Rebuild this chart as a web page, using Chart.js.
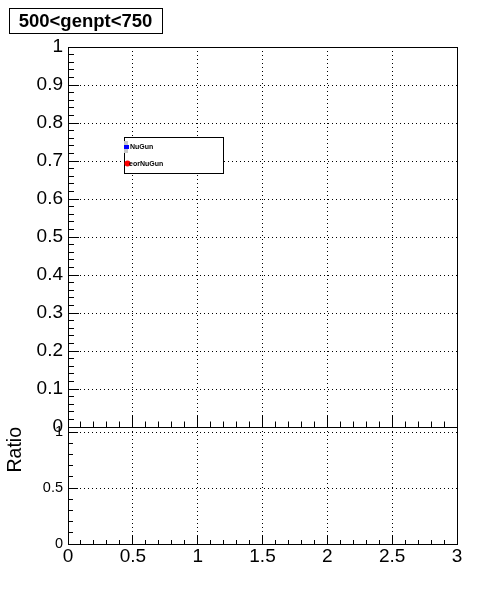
<!DOCTYPE html>
<html>
<head>
<meta charset="utf-8">
<script src="https://cdn.jsdelivr.net/npm/chart.js@4/dist/chart.umd.min.js"></script>
<style>
  html, body { margin: 0; padding: 0; background: #ffffff; }
  body { width: 496px; height: 597px; position: relative; overflow: hidden; }
  canvas { position: absolute; left: 0; }
  #top { top: 0; }
  #bottom { top: 410px; }
</style>
</head>
<body>
<canvas id="top" width="496" height="457"></canvas>
<canvas id="bottom" width="496" height="187"></canvas>
<script>
// ---- data (the histograms are empty) ----
const panelTitle = '500<genpt<750';
const seriesLabels = ['NuGun', 'eorNuGun'];
const nuGunValues = [];      // no points drawn in the reference
const eorNuGunValues = [];   // no points drawn in the reference
const ratioValues = [];      // no points drawn in the reference
const xTickValues = [0, 0.5, 1, 1.5, 2, 2.5, 3];
const topYTickValues = [0, 0.1, 0.2, 0.3, 0.4, 0.5, 0.6, 0.7, 0.8, 0.9, 1];
const ratioYTickValues = [0, 0.5, 1];
const ratioAxisTitle = 'Ratio';

const FONT = '"Liberation Sans", Arial, Helvetica, sans-serif';
const seriesColors = ['#0000ff', '#ff0000'];

function px(v) { return Math.floor(v + 0.001) + 0.5; }

// ROOT-like frame, dotted grid and inward ticks, placed through the chart scales
const rootFrame = {
  id: 'rootFrame',
  afterDraw(chart, args, o) {
    const { ctx, chartArea: a, scales } = chart;
    const x = scales.x, y = scales.y;
    ctx.save();
    ctx.strokeStyle = '#000';
    ctx.lineWidth = 1;
    // dotted grid
    ctx.setLineDash([1, 3]);
    ctx.beginPath();
    o.xGrid.forEach(v => {
      const p = px(x.getPixelForValue(v));
      ctx.moveTo(p, a.top); ctx.lineTo(p, a.bottom);
    });
    o.yGrid.forEach(v => {
      const p = px(y.getPixelForValue(v));
      ctx.moveTo(a.left, p); ctx.lineTo(a.right, p);
    });
    ctx.stroke();
    ctx.setLineDash([]);
    // frame
    ctx.strokeRect(a.left + 0.5, a.top + 0.5, a.right - a.left, a.bottom - a.top);
    // x ticks (bottom edge, pointing up)
    ctx.beginPath();
    const nx = Math.round((x.max - x.min) / o.xMinor);
    for (let i = 0; i <= nx; i++) {
      const v = x.min + i * o.xMinor;
      const p = px(x.getPixelForValue(v));
      const len = (i % o.xPer === 0) ? o.xMajorLen : o.xMinorLen;
      ctx.moveTo(p, a.bottom); ctx.lineTo(p, a.bottom - len);
    }
    // y ticks (left edge, pointing right)
    const ny = Math.floor((o.yTop - y.min) / o.yMinor + 1e-6);
    for (let i = 0; i <= ny; i++) {
      const v = y.min + i * o.yMinor;
      const p = px(y.getPixelForValue(v));
      const len = (i % o.yPer === 0) ? o.yMajorLen : o.yMinorLen;
      ctx.moveTo(a.left, p); ctx.lineTo(a.left + len, p);
    }
    ctx.stroke();
    ctx.restore();
  }
};

// title box + legend box drawn on the upper pad
const rootDecor = {
  id: 'rootDecor',
  afterDraw(chart, args, o) {
    if (!o.enabled) return;
    const { ctx, chartArea: a } = chart;
    ctx.save();
    // title box
    ctx.fillStyle = '#fff';
    ctx.fillRect(9.5, 8.5, 153, 25);
    ctx.strokeStyle = '#000';
    ctx.lineWidth = 1;
    ctx.strokeRect(9.5, 8.5, 153, 25);
    ctx.fillStyle = '#000';
    ctx.font = 'bold 18.5px ' + FONT;
    ctx.textAlign = 'center';
    ctx.textBaseline = 'alphabetic';
    ctx.fillText(panelTitle, 85.5, 27);
    // legend box (relative to the plot area)
    const w = a.right - a.left, h = a.bottom - a.top;
    const lx0 = Math.round(a.left + o.legend.x0 * w), lx1 = Math.round(a.left + o.legend.x1 * w);
    const ly0 = Math.round(a.top + o.legend.y0 * h), ly1 = Math.round(a.top + o.legend.y1 * h);
    ctx.fillStyle = '#fff';
    ctx.fillRect(lx0, ly0, lx1 - lx0, ly1 - ly0);
    ctx.strokeRect(lx0 + 0.5, ly0 + 0.5, lx1 - lx0, ly1 - ly0);
    const ds = chart.data.datasets;
    const rowH = (ly1 - ly0) / ds.length;
    ds.forEach((d, i) => {
      const cy = ly0 + rowH * (i + 0.5) + (i === 0 ? 1 : -0.5);
      const mx = lx0 + 3.5;
      if (d.pointStyle === 'rect') {
        ctx.fillStyle = '#c8c8c8';
        ctx.fillRect(lx0, cy - 6, 4, 12);
        ctx.fillStyle = d.backgroundColor;
        ctx.fillRect(lx0, cy - 2, 5, 4);
      } else {
        ctx.fillStyle = d.backgroundColor;
        ctx.beginPath();
        ctx.arc(mx, cy, 3, 0, Math.PI * 2);
        ctx.fill();
      }
      ctx.fillStyle = '#000';
      ctx.font = 'bold 7px ' + FONT;
      ctx.textAlign = 'left';
      ctx.textBaseline = 'middle';
      ctx.fillText(d.label, lx0 + (i === 0 ? 6 : 5), cy + 0.5);
    });
    ctx.restore();
  }
};

const topChart = new Chart(document.getElementById('top'), {
  type: 'scatter',
  data: {
    datasets: [
      { label: seriesLabels[0], data: nuGunValues, backgroundColor: seriesColors[0], borderColor: seriesColors[0], pointStyle: 'rect', pointRadius: 2 },
      { label: seriesLabels[1], data: eorNuGunValues, backgroundColor: seriesColors[1], borderColor: seriesColors[1], pointStyle: 'circle', pointRadius: 3 }
    ]
  },
  plugins: [rootFrame, rootDecor],
  options: {
    responsive: false,
    animation: false,
    devicePixelRatio: 1,
    layout: { padding: { top: 47, right: 39, bottom: 30, left: 0 } },
    plugins: {
      legend: { display: false },
      tooltip: { enabled: false },
      rootFrame: {
        xGrid: [0.5, 1, 1.5, 2, 2.5],
        yGrid: [0.1, 0.2, 0.3, 0.4, 0.5, 0.6, 0.7, 0.8, 0.9],
        xMinor: 0.1, xPer: 5, xMajorLen: 11, xMinorLen: 5.5,
        yMinor: 0.02, yPer: 5, yMajorLen: 11, yMinorLen: 6, yTop: 1
      },
      rootDecor: { enabled: true, legend: { x0: 0.144, x1: 0.398, y0: 0.237, y1: 0.332 } }
    },
    scales: {
      x: { type: 'linear', min: 0, max: 3, display: false },
      y: {
        type: 'linear', min: 0, max: 1,
        afterBuildTicks: s => { s.ticks = topYTickValues.map(v => ({ value: v })); },
        afterFit: s => { s.width = 68; },
        grid: { display: false, drawTicks: false },
        border: { display: false },
        ticks: { color: '#000', font: { family: FONT, size: 19 }, padding: 5, callback: v => String(v) }
      }
    }
  }
});

const bottomChart = new Chart(document.getElementById('bottom'), {
  type: 'scatter',
  data: {
    datasets: [
      { label: 'Ratio', data: ratioValues, backgroundColor: '#000', borderColor: '#000', pointRadius: 2 }
    ]
  },
  plugins: [rootFrame],
  options: {
    responsive: false,
    animation: false,
    devicePixelRatio: 1,
    layout: { padding: { top: 17, right: 39, bottom: 0, left: 0 } },
    plugins: {
      legend: { display: false },
      tooltip: { enabled: false },
      rootFrame: {
        xGrid: [0.5, 1, 1.5, 2, 2.5],
        yGrid: [0.5, 1],
        xMinor: 0.1, xPer: 5, xMajorLen: 8, xMinorLen: 4,
        yMinor: 0.1, yPer: 5, yMajorLen: 10, yMinorLen: 5, yTop: 1
      }
    },
    scales: {
      x: {
        type: 'linear', min: 0, max: 3,
        afterBuildTicks: s => { s.ticks = xTickValues.map(v => ({ value: v })); },
        afterFit: s => { s.height = 53; },
        grid: { display: false, drawTicks: false },
        border: { display: false },
        ticks: { color: '#000', font: { family: FONT, size: 19 }, padding: 1, autoSkip: false, maxRotation: 0, callback: v => String(v) }
      },
      y: {
        type: 'linear', min: 0, max: 1.045,
        afterBuildTicks: s => { s.ticks = ratioYTickValues.map(v => ({ value: v })); },
        afterFit: s => { s.width = 68; },
        grid: { display: false, drawTicks: false },
        border: { display: false },
        title: { display: true, text: ratioAxisTitle, align: 'end', color: '#000', font: { family: FONT, size: 19.5 }, padding: { top: 4, bottom: 0 } },
        ticks: { color: '#000', font: { family: FONT, size: 14.5 }, padding: 5, callback: v => String(v) }
      }
    }
  }
});
</script>
</body>
</html>
